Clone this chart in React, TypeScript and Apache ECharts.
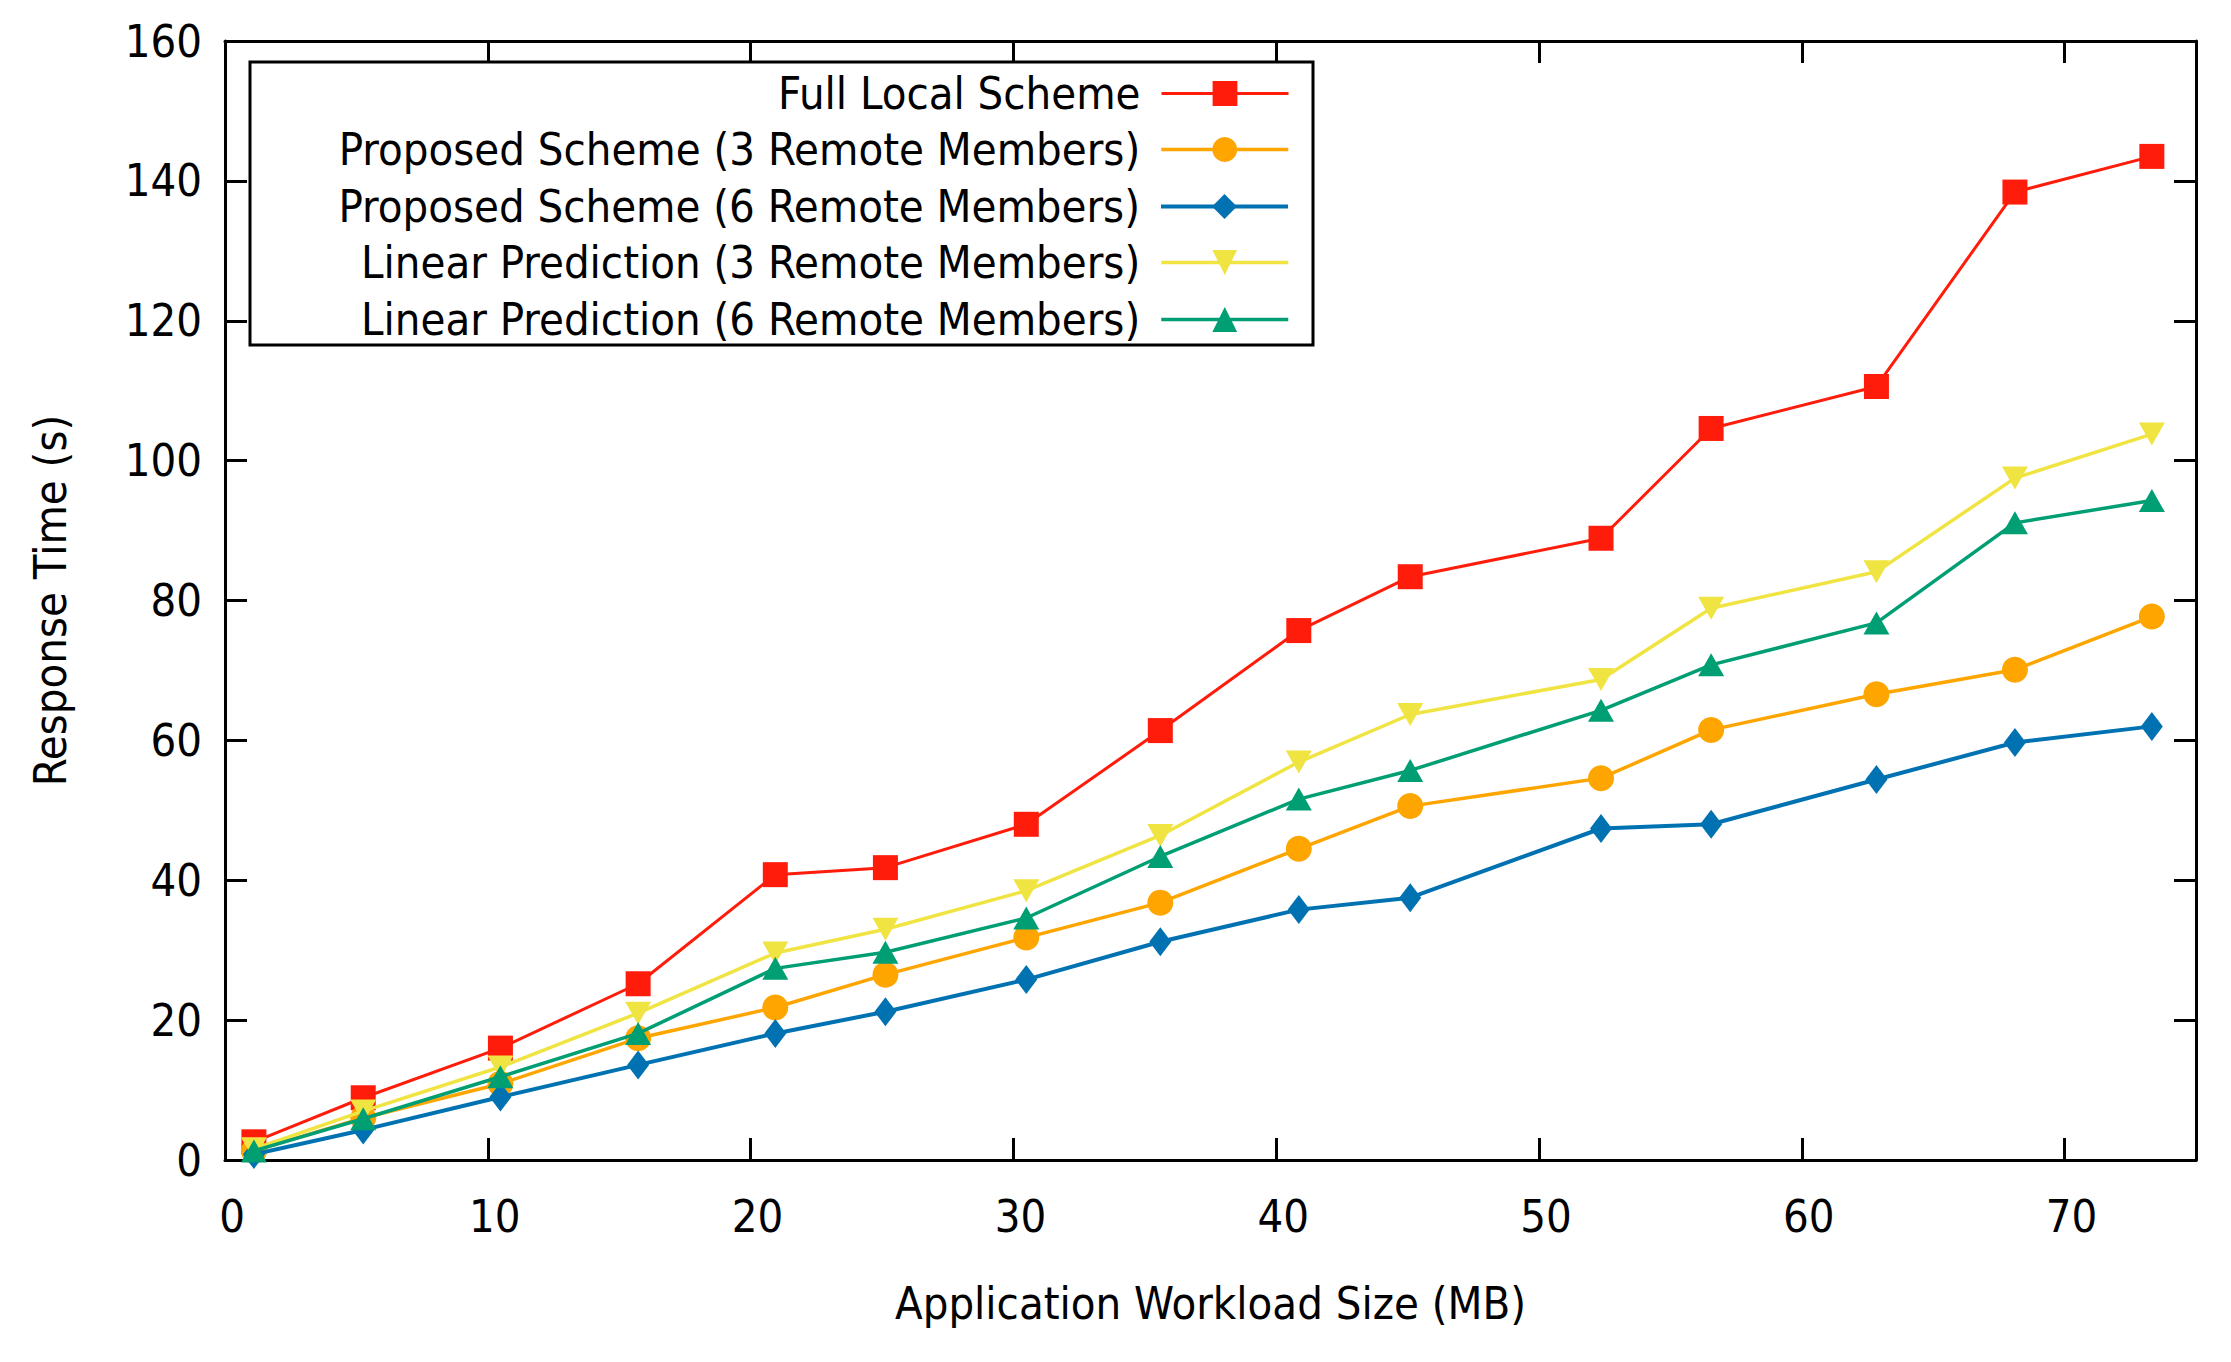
import React, { useEffect, useRef } from "react";
import * as echarts from "echarts";

const xValues = [1.1, 5.26, 10.48, 15.72, 20.94, 25.13, 30.49, 35.59, 40.86, 45.1, 52.36, 56.55, 62.84, 68.11, 73.32];
const fullLocal = [2.6, 8.9, 16.0, 25.2, 40.8, 41.8, 48.0, 61.4, 75.7, 83.4, 88.9, 104.6, 110.6, 138.4, 143.5];
const proposed3 = [1.3, 6.0, 10.9, 17.4, 21.8, 26.5, 31.8, 36.8, 44.5, 50.6, 54.6, 61.5, 66.6, 70.1, 77.7];
const proposed6 = [0.8, 4.3, 9.0, 13.6, 18.1, 21.2, 25.8, 31.2, 35.8, 37.5, 47.4, 48.0, 54.4, 59.7, 62.0];
const linear3 = [1.6, 7.0, 13.3, 21.0, 29.6, 33.0, 38.5, 46.4, 56.9, 63.7, 68.7, 78.9, 84.1, 97.5, 103.8];
const linear6 = [1.3, 5.9, 11.9, 18.1, 27.4, 29.7, 34.6, 43.4, 51.6, 55.7, 64.3, 70.8, 76.8, 91.1, 94.3];

const seriesNames = [
  "Full Local Scheme",
  "Proposed Scheme (3 Remote Members)",
  "Proposed Scheme (6 Remote Members)",
  "Linear Prediction (3 Remote Members)",
  "Linear Prediction (6 Remote Members)",
];
const seriesValues = [fullLocal, proposed3, proposed6, linear3, linear6];
const colors = ["#FF1C0A", "#FFA500", "#0072B2", "#F0E442", "#009E73"];
const symbols = ["rect", "circle", "diamond", "triangle", "triangle"];
const symbolRotates = [0, 0, 0, 180, 0];
const symbolSizes: any[] = [25, 26, [22, 29], [26, 23], [26, 23]];
const lineWidths = [3, 3.5, 4, 3.5, 3.5];

const FONT = "'DejaVu Sans Condensed', 'Liberation Sans', sans-serif";

export default function App() {
  const ref = useRef<HTMLDivElement>(null);
  useEffect(() => {
    if (!ref.current) return;
    const chart = echarts.init(ref.current, undefined, { renderer: "svg" });
    const axisCommon = {
      type: "value" as const,
      axisLine: { show: true, onZero: false, lineStyle: { color: "#000", width: 3 } },
      axisTick: { show: true, inside: true, length: 22, lineStyle: { color: "#000", width: 3 } },
      splitLine: { show: false },
    };
    const legendRowTops = [91, 147, 204, 260, 317];
    const option: any = {
      animation: false,
      backgroundColor: "#fff",
      grid: { left: 225, top: 41, width: 1971, height: 1119, containLabel: false },
      xAxis: [
        {
          ...axisCommon,
          position: "bottom",
          min: 0,
          max: 75,
          interval: 10,
          axisLabel: {
            show: true,
            color: "#000",
            fontSize: 45,
            fontFamily: FONT,
            margin: 34,
            showMaxLabel: false,
            padding: [0, 0, 0, 14],
          },
          name: "Application Workload Size (MB)",
          nameLocation: "middle",
          nameGap: 121,
          nameTextStyle: { color: "#000", fontSize: 45, fontFamily: FONT },
        },
        {
          ...axisCommon,
          position: "top",
          min: 0,
          max: 75,
          interval: 10,
          axisLabel: { show: false },
        },
      ],
      yAxis: [
        {
          ...axisCommon,
          position: "left",
          min: 0,
          max: 160,
          interval: 20,
          axisLabel: { show: true, color: "#000", fontSize: 45, fontFamily: FONT, margin: 23 },
          name: "Response Time (s)",
          nameLocation: "middle",
          nameGap: 152,
          nameTextStyle: { color: "#000", fontSize: 45, fontFamily: FONT },
        },
        {
          ...axisCommon,
          position: "right",
          min: 0,
          max: 160,
          interval: 20,
          axisLabel: { show: false },
        },
      ],
      graphic: [
        {
          type: "rect",
          z: 10,
          shape: { x: 250, y: 62, width: 1063, height: 283 },
          style: { fill: "#fff", stroke: "#000", lineWidth: 3 },
        },
      ],
      legend: seriesNames.map((name, i) => ({
        data: [name],
        orient: "vertical",
        align: "right",
        right: 2231 - 1290,
        top: legendRowTops[i] - 20,
        padding: 0,
        itemWidth: 127,
        itemHeight: 31,
        selectedMode: false,
        z: 20,
        lineStyle: { width: lineWidths[i] },
        textStyle: { color: "#000", fontSize: 45, fontFamily: FONT, padding: [0, 16, 0, 0] },
      })),
      series: seriesNames.map((name, i) => ({
        name,
        type: "line",
        xAxisIndex: 0,
        yAxisIndex: 0,
        data: xValues.map((x, j) => [x, seriesValues[i][j]]),
        symbol: symbols[i],
        symbolRotate: symbolRotates[i],
        symbolSize: symbolSizes[i],
        showSymbol: true,
        color: colors[i],
        itemStyle: { color: colors[i] },
        lineStyle: { color: colors[i], width: lineWidths[i] },
        z: 2 + i * 0.1,
      })),
    };
    chart.setOption(option);
    return () => chart.dispose();
  }, []);
  return (
    <div
      ref={ref}
      style={{ position: "absolute", left: 0, top: 0, width: 2231, height: 1362, background: "#fff" }}
    />
  );
}
